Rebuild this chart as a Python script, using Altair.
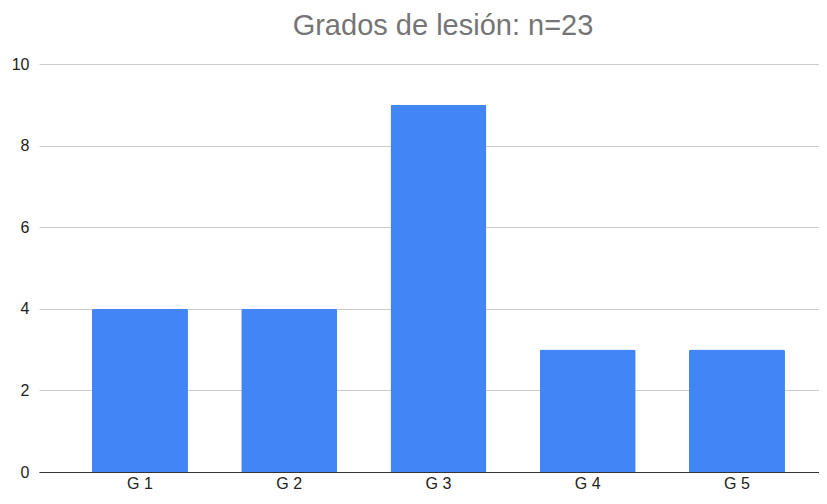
import altair as alt
import pandas as pd

categories = ["G 1", "G 2", "G 3", "G 4", "G 5"]
values = [4, 4, 9, 3, 3]

df = pd.DataFrame({"grado": categories, "n": values})

chart = alt.Chart(df).mark_bar(color="#4285F4", cornerRadiusTopLeft=2, cornerRadiusTopRight=2).encode(
    x=alt.X("grado:N", sort=categories, title=None,
            scale=alt.Scale(paddingInner=0.357, paddingOuter=0.2915, align=0.609),
            axis=alt.Axis(labelAngle=0, ticks=False, domainColor="#333333", domainWidth=1,
                          labelFont="Liberation Sans", labelFontSize=16, labelColor="#222222",
                          labelPadding=3, grid=False)),
    y=alt.Y("n:Q", title=None,
            scale=alt.Scale(domain=[0, 10]),
            axis=alt.Axis(values=[0, 2, 4, 6, 8, 10], ticks=False, domain=False,
                          gridColor="#cccccc", gridWidth=1,
                          labelFont="Liberation Sans", labelFontSize=16, labelColor="#222222",
                          labelPadding=10)),
).properties(
    width=780,
    height=408,
    title=alt.TitleParams("Grados de lesión: n=23", font="Liberation Sans", fontSize=29,
                          fontWeight="normal", color="#757575", anchor="middle", offset=15, dx=14),
    autosize=alt.AutoSizeParams(type="none"),
    padding={"left": 31, "top": 56, "right": 0, "bottom": 20},
).configure_view(stroke=None)

chart.save("out.html", embed_options={"renderer": "svg", "actions": False})
